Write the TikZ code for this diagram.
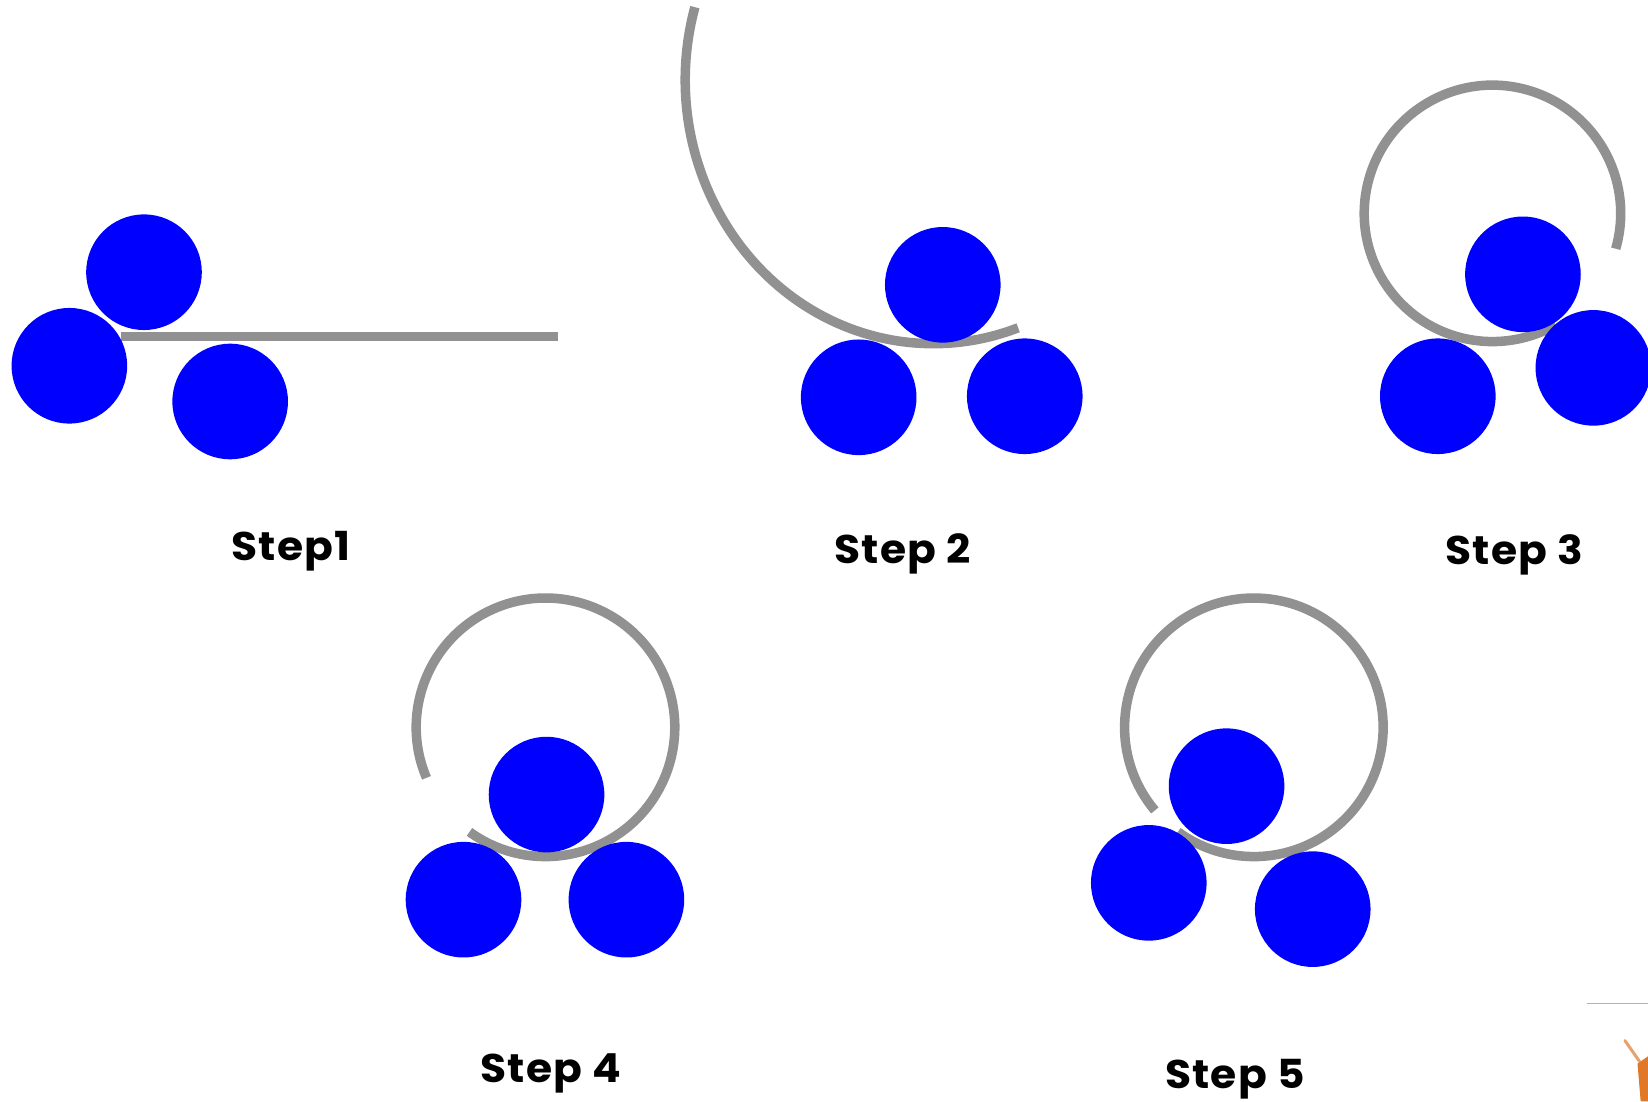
\documentclass[tikz,border=0pt]{standalone}
\usepackage{fontspec}
\newfontfamily\lblfont{Poppins}[LetterSpace=3]
\definecolor{ballblue}{RGB}{0,0,255}
\definecolor{wire}{RGB}{145,145,145}
\definecolor{logoorange}{RGB}{225,120,40}
\begin{document}
\begin{tikzpicture}[x=1.051pt,y=1.051pt,
  ball/.style={circle,fill=ballblue,draw=none,minimum size=115.6pt,inner sep=0pt},
  wirestyle/.style={draw=wire,line width=9.5pt},
  steplabel/.style={font=\lblfont\bfseries\fontsize{40}{44}\selectfont,inner sep=0pt,anchor=base}]
\useasboundingbox (0,0) rectangle (1568,-1048);
\fill[white] (0,0) rectangle (1568,-1048);

% ---------- wires (behind balls) ----------
% Step 1
\coordinate (w1a) at (115,-320);
\coordinate (w1b) at (531,-320);
\draw[wirestyle] (w1a) -- (w1b);
% Step 2
\coordinate (c2) at (888,-76);
\draw[wirestyle] ([shift={(164:236 and 251)}]c2) arc[start angle=164,end angle=290,x radius=236,y radius=251];
% Step 3
\coordinate (c3) at (1420,-203);
\draw[wirestyle] ([shift={(-16:122)}]c3) arc[start angle=-16,end angle=299.5,radius=122];
% Step 4
\coordinate (c4) at (519,-692);
\draw[wirestyle] ([shift={(203:123)}]c4) arc[start angle=203,end angle=-126,radius=123];
% Step 5
\coordinate (c5) at (1193,-692);
\draw[wirestyle] ([shift={(220:123)}]c5) arc[start angle=220,end angle=-126,radius=123];

% ---------- balls ----------
\node[ball] (s1t) at (137,-259) {};
\node[ball] (s1l) at (66,-348) {};
\node[ball] (s1r) at (219,-382) {};

\node[ball] (s2t) at (897,-271) {};
\node[ball] (s2l) at (817,-378) {};
\node[ball] (s2r) at (975,-377) {};

\node[ball] (s3t) at (1449,-261) {};
\node[ball] (s3l) at (1368,-377) {};
\node[ball] (s3r) at (1516,-350) {};

\node[ball] (s4t) at (520,-756) {};
\node[ball] (s4l) at (441,-856) {};
\node[ball] (s4r) at (596,-856) {};

\node[ball] (s5t) at (1167,-748) {};
\node[ball] (s5l) at (1093,-840) {};
\node[ball] (s5r) at (1249,-865) {};

% ---------- labels ----------
\node[steplabel] (l1) at (277,-533) {\scalebox{1.06}[1]{Step1}};
\node[steplabel] (l2) at (859,-536) {\scalebox{1.06}[1]{Step 2}};
\node[steplabel] (l3) at (1441,-537) {\scalebox{1.06}[1]{Step 3}};
\node[steplabel] (l4) at (524,-1030) {\scalebox{1.06}[1]{Step 4}};
\node[steplabel] (l5) at (1175,-1036) {\scalebox{1.06}[1]{Step 5}};

% ---------- clipped logo fragment, bottom right ----------
\coordinate (g1) at (1510,-955);
\coordinate (g2) at (1568,-955);
\draw[gray!60,line width=1.5pt] (g1) -- (g2);
\coordinate (o1) at (1546,-990);
\coordinate (o2) at (1560,-1010);
\draw[logoorange!70,line width=3pt,line cap=round] (o1) -- (o2);
\fill[logoorange] (1558,-1012) -- (1568,-1005) -- (1568,-1048) -- (1561,-1048) -- cycle;
\end{tikzpicture}
\end{document}
